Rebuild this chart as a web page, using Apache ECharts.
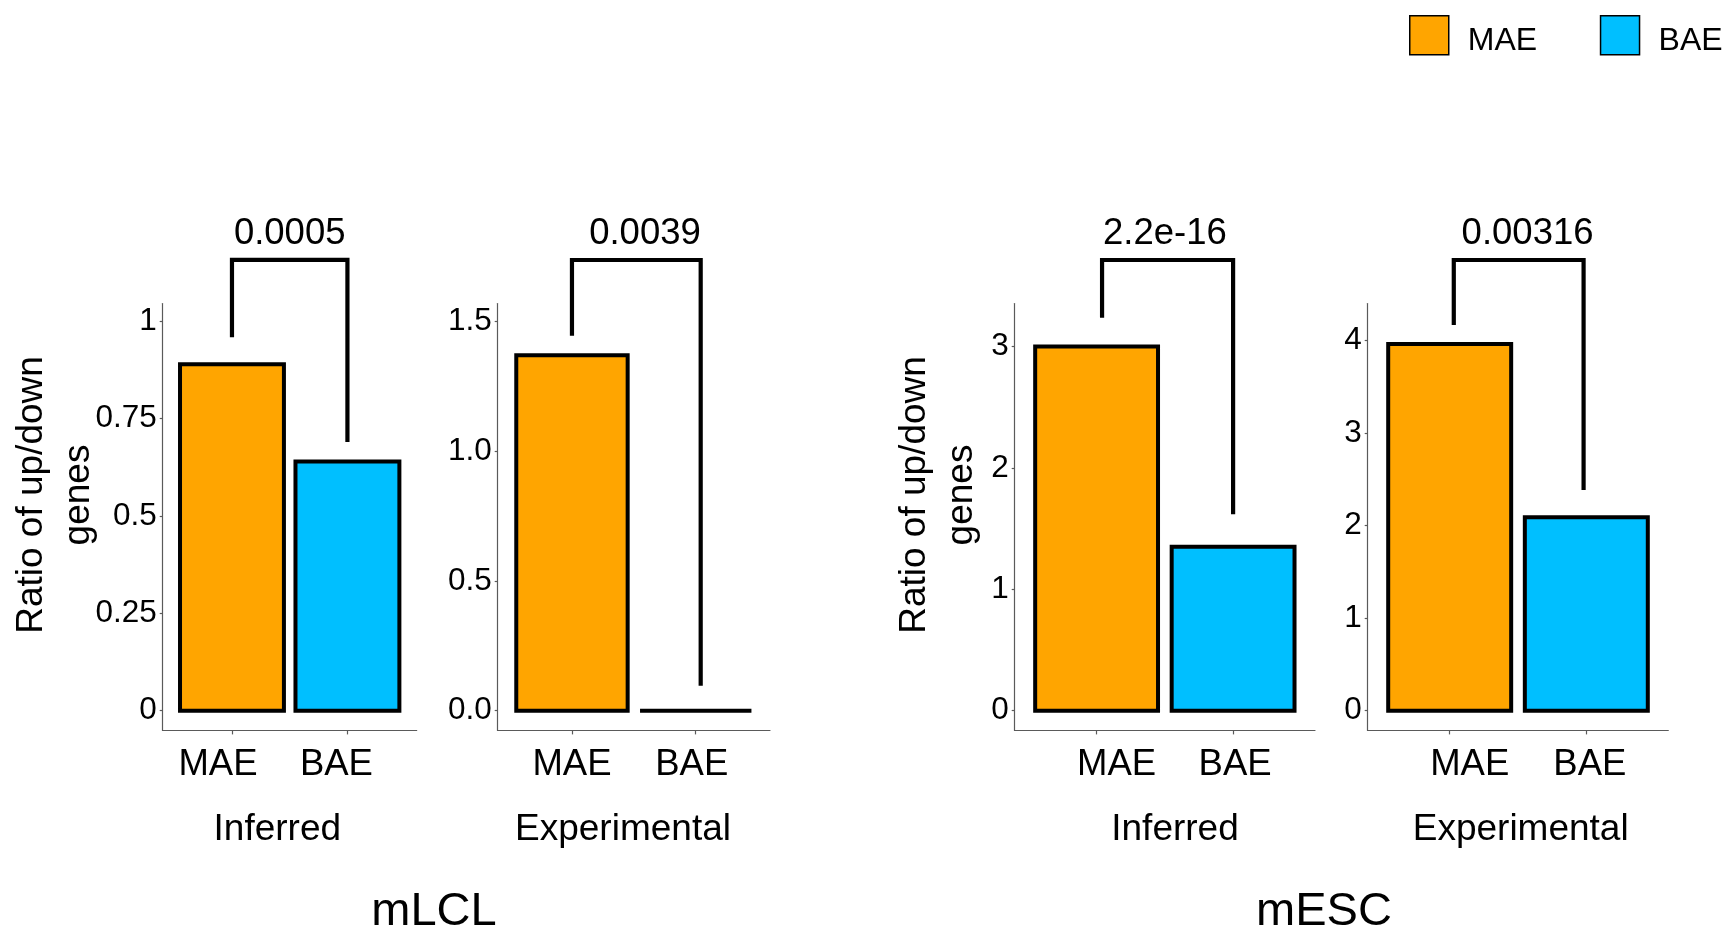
<!DOCTYPE html>
<html>
<head>
<meta charset="utf-8">
<title>Ratio of up/down genes: MAE vs BAE</title>
<script src="https://cdn.jsdelivr.net/npm/echarts@6/dist/echarts.min.js"></script>
<style>
  html, body { margin: 0; padding: 0; background: #fff; }
  #chart { width: 1729px; height: 931px; }
</style>
</head>
<body>
<div id="chart"></div>
<script>
// ---- data ----
const categories = ['MAE', 'BAE'];
const panelTitles = ['Inferred', 'Experimental', 'Inferred', 'Experimental'];
const groupTitles = ['mLCL', 'mESC'];
const maeValues = [0.89, 1.37, 3.0, 3.96];
const baeValues = [0.64, 0, 1.35, 2.09];
const pValues = ['0.0005', '0.0039', '2.2e-16', '0.00316'];
const yTickValues = [[0, 0.25, 0.5, 0.75, 1], [0, 0.5, 1, 1.5], [0, 1, 2, 3], [0, 1, 2, 3, 4]];
const yTickLabels = [['0', '0.25', '0.5', '0.75', '1'], ['0.0', '0.5', '1.0', '1.5'], ['0', '1', '2', '3'], ['0', '1', '2', '3', '4']];
const yMin = [-0.0506, -0.0759, -0.162, -0.213];
const yMax = [1.0457, 1.569, 3.353, 4.396];
// significance brackets: bar height, tip ends and leg positions
const bracketTop = [1.158, 1.737, 3.712, 4.867];
const bracketTipLeft = [0.959, 1.445, 3.236, 4.165];
const bracketTipRight = [0.690, 0.096, 1.618, 2.383];
const bracketLeftX = [1, 1, 1.04, 1.03];
const bracketRightX = [2, 2.04, 2, 1.98];
const pLabelX = [1.5, 1.59, 1.5, 1.57];

// ---- layout ----
const gridLeft = [162.7, 497.7, 1014.7, 1367.7];
const gridWidth = [254, 272.3, 300.3, 300.6];
const gridTop = 303.6;
const gridHeight = 426.8;
const X_MIN = 0.4, X_MAX = 2.6;
const BAR_HALF = 0.45;
// horizontal nudge (px) of each category label: [MAE, BAE] per panel
const catLabelShift = [[-14, -11], [0, -4], [20, 2], [20, 3.5]];
const panelTitleX = [277.3, 623, 1175, 1520.7];
const yTitleX = [55.5, 938.3];
const groupTitleX = [434, 1324];

const FONT = "'Liberation Sans', Arial, sans-serif";
const COLORS = { MAE: '#FFA500', BAE: '#00BFFF' };
const AXIS_GREY = '#5a5a5a';

function shiftStyle(d) {
  const pad = d >= 0 ? [0, 0, 0, 2 * d] : [0, -2 * d, 0, 0];
  return { padding: pad, fontSize: 36.5, fontFamily: FONT, color: '#000' };
}

function barRenderer(color) {
  return function (params, api) {
    const x = api.value(0), v = api.value(1);
    const p0 = api.coord([x - BAR_HALF, 0]);
    const p1 = api.coord([x + BAR_HALF, v]);
    return {
      type: 'rect',
      shape: { x: p0[0], y: Math.min(p0[1], p1[1]), width: p1[0] - p0[0], height: Math.abs(p0[1] - p1[1]) },
      style: { fill: color, stroke: '#000', lineWidth: 4, lineJoin: 'miter' }
    };
  };
}

const grids = [], xAxes = [], yAxes = [], series = [];

for (let i = 0; i < 4; i++) {
  grids.push({ left: gridLeft[i], top: gridTop, width: gridWidth[i], height: gridHeight, containLabel: false });

  const rich = {
    c0: shiftStyle(catLabelShift[i][0]),
    c1: shiftStyle(catLabelShift[i][1])
  };
  xAxes.push({
    gridIndex: i, type: 'value', min: X_MIN, max: X_MAX,
    axisLine: { show: true, onZero: false, lineStyle: { color: AXIS_GREY, width: 1.2 } },
    axisTick: { show: true, customValues: [1, 2], length: 4, lineStyle: { color: AXIS_GREY, width: 1.2 } },
    axisLabel: {
      customValues: [1, 2], margin: 16,
      formatter: v => {
        const k = Math.round(v) - 1;
        return '{c' + k + '|' + categories[k] + '}';
      },
      rich: rich,
      color: '#000', fontSize: 36.5, fontFamily: FONT
    },
    splitLine: { show: false }
  });

  yAxes.push({
    gridIndex: i, type: 'value', min: yMin[i], max: yMax[i],
    axisLine: { show: true, onZero: false, lineStyle: { color: AXIS_GREY, width: 1.2 } },
    axisTick: { show: true, customValues: yTickValues[i], length: 3, lineStyle: { color: AXIS_GREY, width: 1.2 } },
    axisLabel: {
      customValues: yTickValues[i], margin: 6,
      formatter: v => {
        const k = yTickValues[i].findIndex(t => Math.abs(t - v) < 1e-9);
        return k >= 0 ? yTickLabels[i][k] : '';
      },
      color: '#000', fontSize: 31.5, fontFamily: FONT
    },
    splitLine: { show: false }
  });

  series.push({
    name: 'MAE', type: 'custom', xAxisIndex: i, yAxisIndex: i,
    data: [[1, maeValues[i]]], renderItem: barRenderer(COLORS.MAE),
    itemStyle: { color: COLORS.MAE, borderColor: '#000', borderWidth: 4 },
    silent: true, animation: false
  });
  series.push({
    name: 'BAE', type: 'custom', xAxisIndex: i, yAxisIndex: i,
    data: [[2, baeValues[i]]], renderItem: barRenderer(COLORS.BAE),
    itemStyle: { color: COLORS.BAE, borderColor: '#000', borderWidth: 4 },
    silent: true, animation: false
  });

  // bracket joining the two groups
  series.push({
    name: 'bracket' + i, type: 'line', xAxisIndex: i, yAxisIndex: i,
    data: [[bracketLeftX[i], bracketTipLeft[i]], [bracketLeftX[i], bracketTop[i]],
           [bracketRightX[i], bracketTop[i]], [bracketRightX[i], bracketTipRight[i]]],
    showSymbol: false, symbol: 'none', clip: false, silent: true, animation: false,
    lineStyle: { color: '#000', width: 4.2, cap: 'butt', join: 'miter' }
  });

  // p-value above the bracket
  series.push({
    name: 'p' + i, type: 'scatter', xAxisIndex: i, yAxisIndex: i,
    data: [[pLabelX[i], bracketTop[i]]], symbolSize: 0, clip: false, silent: true, animation: false,
    itemStyle: { opacity: 1 },
    label: {
      show: true, position: 'top', distance: 7.5, opacity: 1,
      formatter: pValues[i], color: '#000', fontSize: 36.5, fontFamily: FONT
    }
  });
}

// axis titles and group captions
const graphics = [];
for (let i = 0; i < 4; i++) {
  graphics.push({
    type: 'text', x: panelTitleX[i], y: 830,
    style: { text: panelTitles[i], fill: '#000', font: '37px ' + FONT, textAlign: 'center', textVerticalAlign: 'middle' }
  });
}
for (let g = 0; g < 2; g++) {
  graphics.push({
    type: 'text', x: yTitleX[g], y: 495, rotation: Math.PI / 2,
    style: {
      text: 'Ratio of up/down\ngenes', fill: '#000', font: '37px ' + FONT,
      textAlign: 'center', textVerticalAlign: 'middle', lineHeight: 47
    }
  });
  graphics.push({
    type: 'text', x: groupTitleX[g], y: 912,
    style: { text: groupTitles[g], fill: '#000', font: '47px ' + FONT, textAlign: 'center', textVerticalAlign: 'middle' }
  });
}

const chart = echarts.init(document.getElementById('chart'), null, { renderer: 'canvas' });
chart.setOption({
  backgroundColor: '#fff',
  animation: false,
  legend: {
    data: ['MAE', 'BAE'], orient: 'horizontal', left: 1409, top: 15, width: 330, padding: 0,
    icon: 'rect', itemWidth: 39, itemHeight: 39, itemGap: 62.7,
    itemStyle: { borderColor: '#000', borderWidth: 1.5 },
    formatter: name => '{t|' + name + '}',
    textStyle: {
      color: '#000', fontSize: 32, fontFamily: FONT,
      rich: { t: { color: '#000', fontSize: 32, fontFamily: FONT, padding: [11, 0, 0, 14] } }
    },
    selectedMode: false
  },
  grid: grids,
  xAxis: xAxes,
  yAxis: yAxes,
  series: series,
  graphic: graphics
});
</script>
</body>
</html>
